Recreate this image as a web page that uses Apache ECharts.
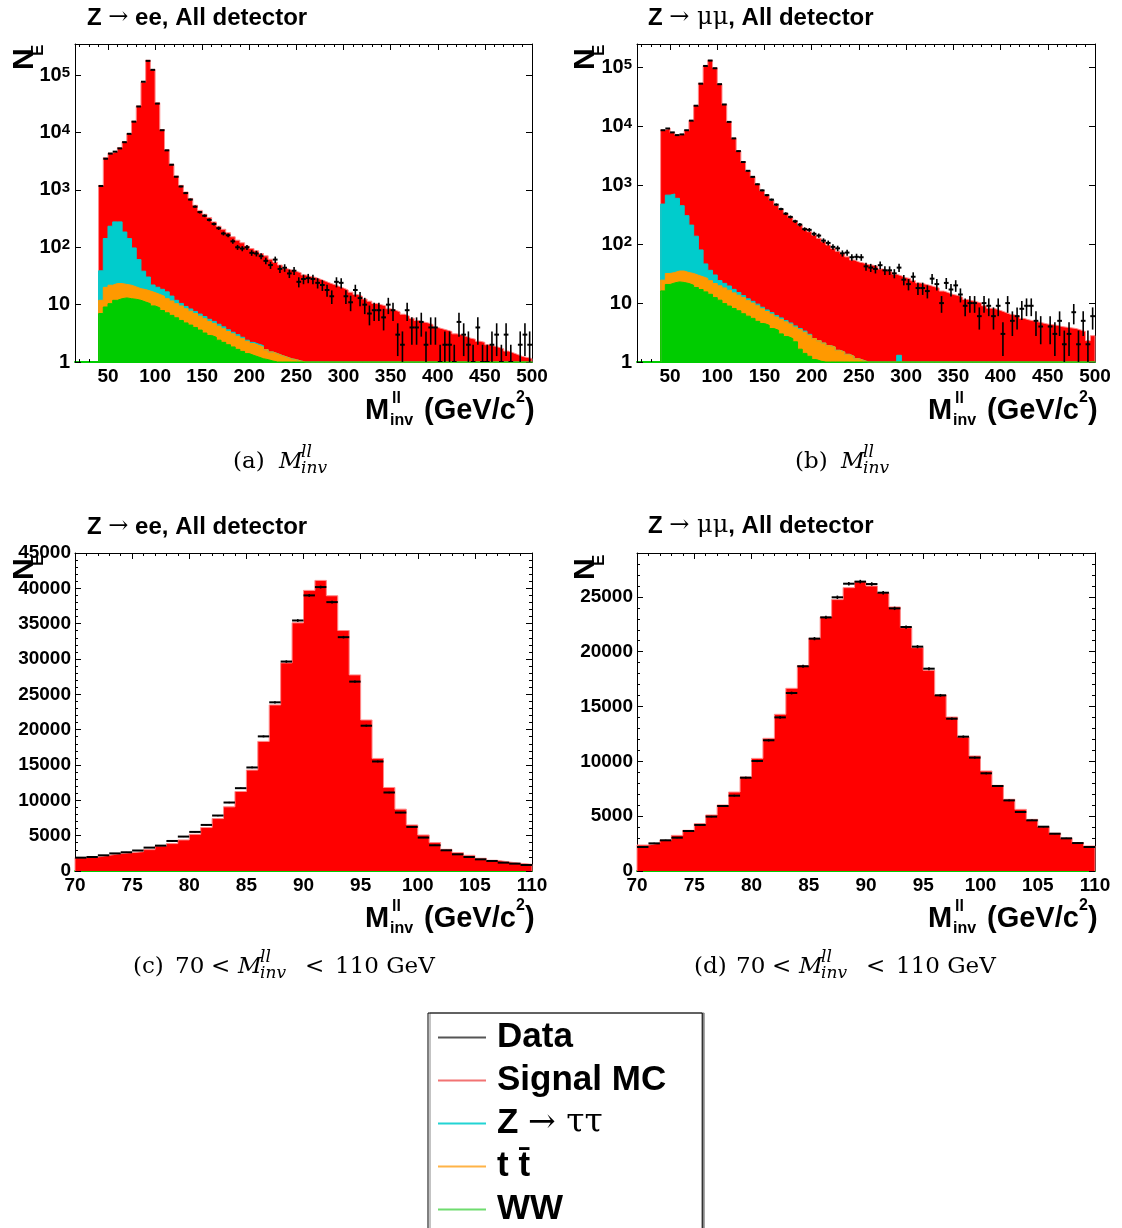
<!DOCTYPE html>
<html>
<head>
<meta charset="utf-8">
<script src="https://cdn.jsdelivr.net/npm/echarts@6/dist/echarts.min.js"></script>
<style>
html,body{margin:0;padding:0;background:#fff;}
#chart{width:1122px;height:1228px;}
</style>
</head>
<body>
<div id="chart"></div>
<script>
// ---------------- DATA ----------------
// Full-range histograms: 5 GeV bins starting at 40 GeV (92 bins, 40..500)
const fullBinLow = 40;
const fullBinWidth = 5;
// Zoomed histograms: 1 GeV bins starting at 70 GeV (40 bins, 70..110)
const zoomBinLow = 70;
const zoomBinWidth = 1;

// (a) Z -> ee
const eeSignal = [1161, 3508, 4167, 4423, 5173, 6716, 9458, 15703, 28939, 75962,
  181970, 125978, 32980, 11282, 4983, 2786, 1728, 1190, 911, 702,
  532, 433, 370, 324, 272, 228, 202, 176, 149, 130,
  117, 102.6, 92.8, 85, 76, 69.4, 60.5, 53.6, 47.7, 41.3,
  38.9, 36.9, 35, 32.2, 30.4, 29.5, 27.6, 25.7, 23.7, 22.3,
  20.8, 19.4, 18, 16.5, 15, 14, 12.5, 11.5, 10.5, 10,
  9.5, 8.5, 8, 7.5, 6.8, 6.3, 5.8, 5.3, 5.0, 4.8,
  4.5, 4.0, 3.8, 3.6, 3.4, 3.1, 3.0, 2.8, 2.6, 2.5,
  2.3, 2.2, 2.0, 1.9, 1.8, 1.7, 1.55, 1.45, 1.35, 1.25,
  1.2, 1.15];
const eeZtt = [27, 122, 211, 254, 254, 162, 120, 77, 42, 20,
  13, 5.8, 5, 4.5, 4, 2.5, 1.5, 1.0, 0.8, 0.7,
  0.6, 0.55, 0.5, 0.45, 0.4, 0.35, 0.3, 0.25, 0.2, 0.2,
  0.15, 0.1, 0.1, 0.1, 0.1, 0, 0, 0, 0, 0,
  0, 0, 0, 0, 0, 0, 0, 0, 0, 0,
  0, 0, 0, 0, 0, 0, 0, 0, 0, 0,
  0, 0, 0, 0, 0, 0, 0, 0, 0, 0,
  0, 0, 0, 0, 0, 0, 0, 0, 0, 0,
  0, 0, 0, 0, 0, 0, 0, 0, 0, 0,
  0, 0];
const eeTtbar = [4.9, 10.9, 11.4, 11.4, 10.6, 9.4, 9.1, 8.0, 7.1, 7.2,
  6.9, 6.7, 6.3, 6.1, 5.5, 5.1, 4.5, 4.2, 3.7, 3.3,
  3.0, 2.7, 2.5, 2.2, 2.0, 1.8, 1.6, 1.4, 1.27, 1.14,
  1.02, 0.9, 0.8, 0.73, 0.69, 0.54, 0.46, 0.5, 0.6, 0.72,
  0.84, 0.9, 0.94, 0.8, 0.6, 0.5, 0.4, 0.3, 0.3, 0.2,
  0.2, 0.1, 0, 0, 0, 0, 0, 0, 0, 0,
  0, 0, 0, 0, 0, 0, 0, 0, 0, 0,
  0, 0, 0, 0, 0, 0, 0, 0, 0, 0,
  0, 0, 0, 0, 0, 0, 0, 0, 0, 0,
  0, 0];
const eeWW = [7, 9.1, 10.4, 11.9, 12.7, 13.1, 12.7, 12.4, 11.9, 11.1,
  10.4, 9.5, 8.8, 7.9, 7.2, 6.5, 5.9, 5.3, 4.8, 4.4,
  4.0, 3.6, 3.2, 2.9, 2.7, 2.4, 2.2, 2.0, 1.83, 1.66,
  1.53, 1.4, 1.3, 1.22, 1.14, 1.1, 1.04, 0.9, 0.7, 0.5,
  0.3, 0.2, 0.1, 0, 0, 0, 0, 0, 0, 0,
  0, 0, 0, 0, 0, 0, 0, 0, 0, 0,
  0, 0, 0, 0, 0, 0, 0, 0, 0, 0,
  0, 0, 0, 0, 0, 0, 0, 0, 0, 0,
  0, 0, 0, 0, 0, 0, 0, 0, 0, 0,
  0, 0];
const eeData = [1170, 3500, 4300, 4650, 5300, 6800, 9500, 15500, 28500, 77000,
  178000, 124000, 32000, 11000, 4900, 2750, 1700, 1150, 880, 680,
  510, 410, 355, 300, 255, 215, 174, 162, 127, 100,
  95, 100, 80, 78, 70, 58, 49, 61, 42, 44,
  35, 39, 25, 28, 29, 28, 24, 22, 18, 14,
  25, 24, 14, 11, 18, 13, 10, 7, 8, 8,
  6, 10, 8, 3, 2, 8, 4, 4, 5, 2,
  4, 4, 1, 2, 2, 1, 5, 3, 2, 1,
  4, 1, 1, 2, 3, 1, 3, 1, 0, 2,
  3, 2];

// (b) Z -> mumu
const mmSignal = [8220, 8620, 7140, 6560, 6920, 8195, 12389, 22463, 53920, 106954,
  131964, 97970, 52576, 23678, 11980, 6283, 3815, 2487, 1738, 1389,
  1035, 801, 662, 553, 454, 384, 327, 280, 243, 207,
  182.6, 160, 140.5, 123.7, 107.9, 95.1, 83.2, 74.4, 67.5, 59.6,
  52.7, 48.9, 46.9, 44.1, 43.3, 41.4, 37.5, 35.6, 33.7, 30.8,
  27.7, 27, 26, 24, 22, 21, 20, 19, 18, 16,
  15, 14, 13.5, 12.5, 11.5, 11, 10.5, 10, 9, 8.2,
  8, 7.5, 7, 6.5, 6.3, 6, 5.5, 5.2, 5, 4.8,
  4.6, 4.4, 4.3, 4.2, 4.0, 3.9, 3.8, 3.7, 3.5, 3.3,
  2.3, 2.8];
const mmZtt = [455, 648, 677, 565, 415, 272, 179, 107, 52, 20,
  12, 8.5, 4.5, 3.5, 3, 2.2, 1.5, 1.0, 0.8, 0.7,
  0.6, 0.5, 0.45, 0.4, 0.35, 0.3, 0.25, 0.2, 0.2, 0.15,
  0.15, 0.1, 0, 0, 0, 0, 0, 0, 0, 0,
  0, 0, 0, 0, 0, 0, 0, 0, 0, 0,
  1.2, 0, 0, 0, 0, 0, 0, 0, 0, 0,
  0, 0, 0, 0, 0, 0, 0, 0, 0, 0,
  0, 0, 0, 0, 0, 0, 0, 0, 0, 0,
  0, 0, 0, 0, 0, 0, 0, 0, 0, 0,
  0, 0];
const mmTtbar = [8.4, 11.1, 11.0, 12.1, 12.6, 11.5, 11.7, 11.3, 10.9, 10.7,
  9.9, 9.1, 8.4, 8.3, 7.6, 6.8, 6.2, 5.8, 5.0, 4.5,
  4.1, 3.5, 3.0, 2.8, 2.35, 2.3, 2.1, 1.9, 1.7, 1.9,
  1.8, 1.6, 1.4, 1.27, 1.2, 1.1, 1.2, 1.08, 1.08, 1.05,
  1.0, 0.94, 0.92, 0.8, 0.7, 0.6, 0.5, 0.4, 0.3, 0.2,
  0.1, 0, 0, 0, 0, 0, 0, 0, 0, 0,
  0, 0, 0, 0, 0, 0, 0, 0, 0, 0,
  0, 0, 0, 0, 0, 0, 0, 0, 0, 0,
  0, 0, 0, 0, 0, 0, 0, 0, 0, 0,
  0, 0];
const mmWW = [16.1, 20.7, 22, 22.9, 22.4, 21.5, 20.1, 18.4, 17, 15.5,
  14.1, 12.4, 11.2, 9.8, 8.9, 8.1, 7.4, 6.6, 6.0, 5.5,
  4.9, 4.5, 4.2, 3.7, 3.45, 3.0, 2.7, 2.5, 2.2, 1.65,
  1.4, 1.25, 1.1, 1.03, 0.9, 0.8, 0.6, 0.5, 0.4, 0.3,
  0.25, 0.2, 0.15, 0.1, 0, 0, 0, 0, 0, 0,
  0, 0, 0, 0, 0, 0, 0, 0, 0, 0,
  0, 0, 0, 0, 0, 0, 0, 0, 0, 0,
  0, 0, 0, 0, 0, 0, 0, 0, 0, 0,
  0, 0, 0, 0, 0, 0, 0, 0, 0, 0,
  0, 0];
const mmData = [8600, 9200, 7900, 7100, 7300, 8600, 12500, 22400, 53000, 106000,
  131000, 97000, 52000, 23500, 11900, 6250, 3800, 2480, 1760, 1390,
  1040, 820, 680, 570, 470, 395, 330, 290, 245, 215,
  180, 175, 150, 140, 115, 105, 90, 85, 70, 72,
  60, 61, 60, 42, 40, 38, 44, 36, 36, 32,
  40, 25, 21, 28, 18, 18, 16, 26, 21, 10,
  22, 17, 20, 14, 9, 10, 10, 6, 10, 9,
  6, 9, 3, 10, 5, 6, 8, 9, 9, 5,
  4, 0, 4, 3, 5, 2, 3, 7, 2, 5,
  2, 6];

// (c) Z -> ee, 70-110 GeV
const eeZoomSignal = [1890, 1985, 2220, 2460, 2600, 2740, 3025, 3545, 3880, 4400,
  5200, 6150, 7420, 9080, 11250, 14280, 18340, 23500, 29450, 35120,
  39710, 41120, 38950, 34030, 27750, 21370, 15930, 11820, 8750, 6520,
  5100, 4020, 3070, 2600, 2220, 1800, 1510, 1280, 1090, 945];
const eeZoomData = [1890, 1985, 2220, 2490, 2650, 2900, 3310, 3590, 4250, 4870,
  5530, 6520, 7850, 9690, 11720, 14650, 19050, 23870, 29640, 35450,
  39000, 40180, 38050, 33090, 26800, 20560, 15500, 11110, 8270, 6240,
  4730, 3640, 2930, 2360, 1985, 1650, 1420, 1180, 1040, 850];

// (d) Z -> mumu, 70-110 GeV
const mmZoomSignal = [2370, 2550, 2800, 3250, 3710, 4320, 5110, 6020, 7200, 8570,
  10270, 12100, 14290, 16660, 18730, 21220, 23160, 24750, 25840, 26390,
  25990, 25380, 24080, 22190, 20370, 18300, 16050, 14040, 12220, 10490,
  9120, 7810, 6540, 5620, 4710, 4040, 3440, 2980, 2580, 2280];
const mmZoomData = [2190, 2520, 2800, 3040, 3650, 4200, 4960, 5930, 6870, 8510,
  10030, 11920, 14010, 16230, 18670, 21190, 23130, 24960, 26200, 26390,
  26170, 25380, 23950, 22250, 20460, 18450, 16020, 13890, 12250, 10340,
  8910, 7750, 6440, 5380, 4620, 4040, 3400, 2980, 2550, 2190];

const legendNames = ['Data', 'Signal MC', 'Ztautau', 'ttbar', 'WW'];

// ---------------- STYLE / LAYOUT ----------------
const SANS = '"Liberation Sans", Arial, Helvetica, sans-serif';
const SERIF = '"DejaVu Serif", "Liberation Serif", serif';
const C_SIG = '#ff0000', C_SIG_LINE = '#ff8a8a';
const C_ZTT = '#00cccc';
const C_TT = '#ff9900';
const C_WW = '#00cc00';

const panels = [
  {left: 75, top: 44, width: 457, height: 318, log: true, xMin: 15, xMax: 500, yMin: 1, yMax: 350000,
   low: fullBinLow, w: fullBinWidth, comps: [eeWW, eeTtbar, eeZtt, eeSignal], data: eeData},
  {left: 637, top: 44, width: 458, height: 318, log: true, xMin: 15, xMax: 500, yMin: 1, yMax: 250000,
   low: fullBinLow, w: fullBinWidth, comps: [mmWW, mmTtbar, mmZtt, mmSignal], data: mmData},
  {left: 75, top: 553, width: 457, height: 318, log: false, xMin: 70, xMax: 110, yMin: 0, yMax: 45000, showMax: true,
   low: zoomBinLow, w: zoomBinWidth, comps: [eeZoomSignal], data: eeZoomData},
  {left: 637, top: 553, width: 458, height: 318, log: false, xMin: 70, xMax: 110, yMin: 0, yMax: 29000, showMax: false,
   low: zoomBinLow, w: zoomBinWidth, comps: [mmZoomSignal], data: mmZoomData}
];

function stepPoints(low, w, vals, base) {
  const n = vals.length;
  const pts = [[low, base]];
  for (let i = 0; i < n; i++) pts.push([low + i * w, Math.max(vals[i], base)]);
  pts.push([low + n * w, Math.max(vals[n - 1], base)]);
  pts.push([low + n * w, base]);
  return pts;
}
function cumulative(arrs, k) {
  return arrs[0].map((_, i) => { let s = 0; for (let j = 0; j <= k; j++) s += arrs[j][i]; return s; });
}

const labelFont = {fontFamily: SANS, fontWeight: 'bold', fontSize: 19, color: '#000'};
const plainNum = v => String(Math.round(v));

const grids = [], xAxes = [], yAxes = [], series = [];
panels.forEach((p, gi) => {
  grids.push({left: p.left, top: p.top, width: p.width, height: p.height, containLabel: false, outerBoundsMode: 'none'});
  const xCommon = {type: 'value', gridIndex: gi, min: p.xMin, max: p.xMax, splitLine: {show: false}, minorSplitLine: {show: false}};
  if (p.log) xCommon.splitNumber = 10; else xCommon.interval = 5;
  xAxes.push(Object.assign({}, xCommon, {
    position: 'bottom',
    axisLine: {show: true, onZero: false, lineStyle: {color: C_WW, width: 2}},
    axisTick: {show: true, inside: true, length: 6, lineStyle: {color: '#000', width: 1}},
    minorTick: {show: true, splitNumber: 5, length: 3, lineStyle: {color: '#000', width: 1}},
    axisLabel: Object.assign({show: true, margin: 5, showMinLabel: !p.log, showMaxLabel: true, formatter: plainNum}, labelFont)
  }));
  xAxes.push(Object.assign({}, xCommon, {
    position: 'top',
    axisLine: {show: true, onZero: false, lineStyle: {color: '#000', width: 1}},
    axisTick: {show: true, inside: true, length: 6, lineStyle: {color: '#000', width: 1}},
    minorTick: {show: true, splitNumber: 5, length: 3, lineStyle: {color: '#000', width: 1}},
    axisLabel: {show: false}
  }));
  let yCommon;
  if (p.log) {
    yCommon = {type: 'log', logBase: 10, gridIndex: gi, min: p.yMin, max: p.yMax, splitLine: {show: false}};
  } else {
    yCommon = {type: 'value', gridIndex: gi, min: p.yMin, max: p.yMax, interval: 5000, splitLine: {show: false}, minorSplitLine: {show: false},
      minorTick: {show: true, splitNumber: 5, length: 3, lineStyle: {color: '#000', width: 1}}};
  }
  const yLabel = p.log ? Object.assign({
      show: true, margin: 5, showMinLabel: true, showMaxLabel: false,
      formatter: function (v) {
        const e = Math.round(Math.log10(v));
        if (e === 0) return '{n|1}';
        if (e === 1) return '{n|10}';
        return '{n|10}{sup|' + e + '}';
      },
      rich: {
        n: {fontFamily: SANS, fontWeight: 'bold', fontSize: 20, color: '#000', lineHeight: 20, verticalAlign: 'bottom'},
        sup: {fontFamily: SANS, fontWeight: 'bold', fontSize: 15, color: '#000', verticalAlign: 'top', lineHeight: 15, padding: [0, 0, 9, 0]}
      }
    }, labelFont)
    : Object.assign({show: true, margin: 4, showMinLabel: true, showMaxLabel: p.showMax, formatter: plainNum}, labelFont);
  yAxes.push(Object.assign({}, yCommon, {
    position: 'left',
    axisLine: {show: true, onZero: false, lineStyle: {color: '#000', width: 1}},
    axisTick: {show: true, inside: true, length: 6, lineStyle: {color: '#000', width: 1}},
    axisLabel: yLabel
  }));
  yAxes.push(Object.assign({}, yCommon, {
    position: 'right',
    axisLine: {show: true, onZero: false, lineStyle: {color: '#000', width: 1}},
    axisTick: {show: true, inside: true, length: 6, lineStyle: {color: '#000', width: 1}},
    axisLabel: {show: false}
  }));

  const base = p.yMin;
  const names = p.comps.length === 4 ? ['WW', 'ttbar', 'Ztautau', 'Signal MC'] : ['Signal MC'];
  const fills = p.comps.length === 4 ? [C_WW, C_TT, C_ZTT, C_SIG] : [C_SIG];
  const lines = p.comps.length === 4 ? [C_WW, C_TT, C_ZTT, C_SIG_LINE] : [C_SIG_LINE];
  // draw total first, then the lower stacks on top of it
  for (let k = p.comps.length - 1; k >= 0; k--) {
    const cum = cumulative(p.comps, k);
    series.push({
      type: 'line', name: names[k], xAxisIndex: 2 * gi, yAxisIndex: 2 * gi,
      data: stepPoints(p.low, p.w, cum, base), step: 'end',
      symbol: 'none', showSymbol: false, silent: true, animation: false,
      lineStyle: {color: lines[k], width: 1},
      itemStyle: {color: fills[k]},
      areaStyle: {color: fills[k], opacity: 1, origin: 'start'},
      z: 2
    });
  }
  const binW = p.w;
  series.push({
    type: 'custom', name: 'Data', xAxisIndex: 2 * gi, yAxisIndex: 2 * gi,
    data: p.data.map((v, i) => [p.low + i * p.w, v]),
    encode: {x: 0, y: 1}, clip: true, silent: true, animation: false, z: 5,
    itemStyle: {color: '#000'},
    renderItem: function (params, api) {
      const x0 = api.value(0), n = api.value(1);
      if (!(n > 0)) return null;
      const err = Math.sqrt(n);
      const lo = Math.max(n - err, base), hi = n + err;
      const a = api.coord([x0, n]), b = api.coord([x0 + binW, n]);
      const c1 = api.coord([x0 + binW / 2, lo]), c2 = api.coord([x0 + binW / 2, hi]);
      return {type: 'group', children: [
        {type: 'line', shape: {x1: a[0], y1: a[1], x2: b[0], y2: b[1]}, style: {stroke: '#000', lineWidth: 2}},
        {type: 'line', shape: {x1: c1[0], y1: c1[1], x2: c2[0], y2: c2[1]}, style: {stroke: '#000', lineWidth: 1.6}}
      ]};
    }
  });
});

// ---------------- TEXT (titles, axis titles, captions) ----------------
function txt(x, y, text, font, extra) {
  return Object.assign({type: 'text', x: x, y: y, silent: true,
    style: {text: text, font: font, fill: '#000', align: 'left', verticalAlign: 'middle', textAlign: 'left', textVerticalAlign: 'middle'}}, extra || {});
}
const graphics = [];
const titleRich = {
  b: {fontFamily: SANS, fontWeight: 'bold', fontSize: 24, fill: '#000', color: '#000'},
  s: {fontFamily: SERIF, fontWeight: 'normal', fontSize: 24, fill: '#000', color: '#000'}
};
function title(x, y, lep) {
  graphics.push({type: 'text', x: x, y: y, silent: true,
    style: {text: '{b|Z }{s|→' + (lep === 'ee' ? '}{b| ee' : ' μμ}{b|') + ', All detector}', rich: titleRich,
      fill: '#000', align: 'left', verticalAlign: 'middle', textAlign: 'left', textVerticalAlign: 'middle'}});
}
title(87, 18, 'ee'); title(648, 18, 'mm'); title(87, 527, 'ee'); title(648, 526, 'mm');

function yTitle(dx, dy) {
  graphics.push(txt(25 + dx, 70 + dy, 'N', 'bold 30px ' + SANS, {rotation: Math.PI / 2}));
  graphics.push(txt(38 + dx, 56 + dy, 'E', 'bold 17px ' + SANS, {rotation: Math.PI / 2}));
}
yTitle(0, 0); yTitle(561, 0); yTitle(0, 510); yTitle(561, 510);

function xTitle(dx, dy) {
  const big = 'bold 29px ' + SANS, small = 'bold 16px ' + SANS;
  graphics.push(txt(365 + dx, 411 + dy, 'M', big));
  graphics.push(txt(392 + dx, 399 + dy, 'll', small));
  graphics.push(txt(390 + dx, 421 + dy, 'inv', small));
  graphics.push(txt(424 + dx, 411 + dy, '(GeV/c', big));
  graphics.push(txt(516 + dx, 398 + dy, '2', small));
  graphics.push(txt(525 + dx, 411 + dy, ')', big));
}
xTitle(0, 0); xTitle(563, 0); xTitle(0, 508); xTitle(563, 508);

const capFont = '23px ' + SERIF, capIt = 'italic 23px ' + SERIF, capSm = 'italic 17px ' + SERIF;
function captionFull(x, y, letter) {
  graphics.push(txt(x, y, '(' + letter + ')', capFont));
  graphics.push(txt(x + 46, y, 'M', capIt));
  graphics.push(txt(x + 68, y - 9, 'll', capSm));
  graphics.push(txt(x + 68, y + 7, 'inv', capSm));
}
captionFull(233, 462, 'a'); captionFull(795, 462, 'b');
function captionZoom(x, y, letter) {
  graphics.push(txt(x, y, '(' + letter + ')', capFont));
  graphics.push(txt(x + 42, y, '70', capFont));
  graphics.push(txt(x + 78, y, '<', capFont));
  graphics.push(txt(x + 105, y, 'M', capIt));
  graphics.push(txt(x + 127, y - 9, 'll', capSm));
  graphics.push(txt(x + 127, y + 7, 'inv', capSm));
  graphics.push(txt(x + 172, y, '<', capFont));
  graphics.push(txt(x + 202, y, '110 GeV', capFont));
}
captionZoom(133, 967, 'c'); captionZoom(694, 967, 'd');

// ---------------- CHART ----------------
const chart = echarts.init(document.getElementById('chart'), null, {renderer: 'canvas'});
chart.setOption({
  animation: false,
  backgroundColor: '#fff',
  grid: grids,
  xAxis: xAxes,
  yAxis: yAxes,
  series: series,
  legend: {
    show: true, orient: 'vertical', left: 428, top: 1013, height: 300,
    padding: [7, 36, 30, 10], itemGap: 8, itemWidth: 48, itemHeight: 2,
    backgroundColor: '#fff', borderColor: '#000', borderWidth: 1,
    shadowColor: '#888', shadowOffsetX: 2, shadowOffsetY: 0, shadowBlur: 0,
    selectedMode: false,
    data: [
      {name: 'Data', icon: 'rect', itemStyle: {color: '#555'}},
      {name: 'Signal MC', icon: 'rect', itemStyle: {color: '#f27373'}},
      {name: 'Ztautau', icon: 'rect', itemStyle: {color: '#22d4d4'}},
      {name: 'ttbar', icon: 'rect', itemStyle: {color: '#ffb347'}},
      {name: 'WW', icon: 'rect', itemStyle: {color: '#6fdc6f'}}
    ],
    formatter: function (name) {
      if (name === 'Ztautau') return '{b|Z }{s|→ ττ}';
      if (name === 'ttbar') return '{b|t t\u0304}';
      return '{b|' + name + '}';
    },
    textStyle: {
      padding: [0, 0, 0, 6],
      rich: {
        b: {fontFamily: SANS, fontWeight: 'bold', fontSize: 35, lineHeight: 36, color: '#000'},
        s: {fontFamily: SERIF, fontWeight: 'normal', fontSize: 33, lineHeight: 36, color: '#000'}
      }
    }
  },
  graphic: graphics
});
</script>
</body>
</html>
